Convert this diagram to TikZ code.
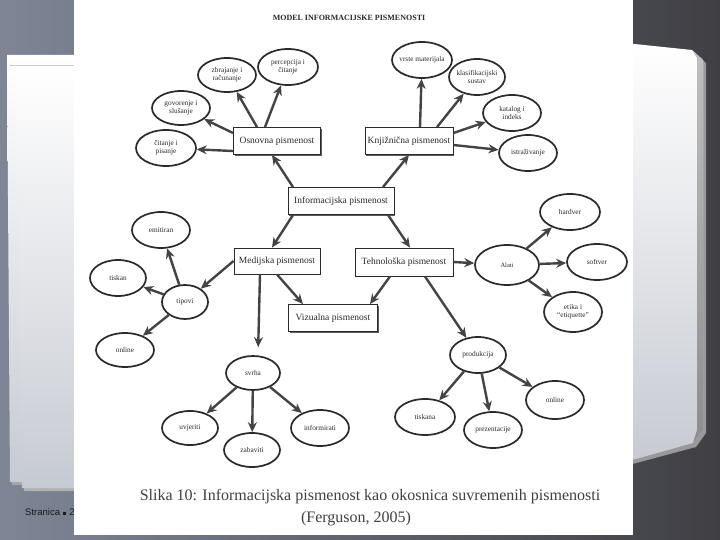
\documentclass[tikz,border=0pt]{standalone}
\usepackage{fontspec}
\setmainfont{Liberation Serif}
\newfontfamily\slidesans{Liberation Sans}
\newfontfamily\symfont{DejaVu Sans}
\usetikzlibrary{shapes.geometric,arrows.meta,shadows}
\definecolor{bgL}{HTML}{7E8696}
\definecolor{bgR}{HTML}{3F3F44}
\definecolor{ink}{HTML}{2A2A2A}
\definecolor{arrc}{HTML}{444444}
\definecolor{sheetb}{HTML}{C6CAD2}
\begin{document}
\begin{tikzpicture}[x=1pt,y=-1pt,
  ell/.style={ellipse, draw=ink, line width=1.7pt, fill=white, inner sep=0pt},
  etx/.style={font=\fontsize{7.3}{8.3}\selectfont, align=center, text=ink, inner sep=0pt},
  box/.style={rectangle, draw=ink, line width=0.9pt, fill=white, inner sep=0pt,
    font=\fontsize{9.5}{10}\selectfont, text=ink,
    drop shadow={shadow xshift=1.2pt, shadow yshift=-1.4pt, opacity=0.85, fill=black!75}},
  arr/.style={draw=arrc, line width=2.4pt, -{Stealth[length=10pt,width=9pt]}},
]
\useasboundingbox (0,0) rectangle (720,540);
% slide background
\shade[left color=bgL, right color=bgR] (0,0) rectangle (720,540);
% left paper sheets
\fill[black!35] (9,57) -- (80,57) -- (80,485) -- (12,485) -- cycle;
\shade[top color=white, bottom color=sheetb] (7,55) -- (80,55) -- (80,482) -- (10,482) -- cycle;
\fill[black!30] (17,70) -- (80,70) -- (80,491) -- (24,491) -- cycle;
\shade[top color=white, bottom color=sheetb] (15,68) -- (80,68) -- (80,488) -- (22,488) -- cycle;
\draw[black!20, line width=1pt] (10,66) -- (80,66);
% right paper sheet
\fill[black!40] (625,46) -- (694,53) -- (706,63) -- (706,433) -- (696,447) -- (625,466) -- cycle;
\shade[top color=white, bottom color=sheetb] (625,43) -- (692,50) -- (703,60) -- (703,430) -- (693,443) -- (625,462) -- cycle;
\shade[top color=black!25, bottom color=black!45] (692,50) -- (703,60) -- (703,430) -- (693,443) -- (697,430) -- (697,58) -- cycle;
% footer text
\node[anchor=west, font=\slidesans\fontsize{9.5}{10}\selectfont, text=black!90, inner sep=0pt] (str) at (25,512) {Stranica {\symfont\fontsize{6}{7}\selectfont ▪} 2};
% the scanned figure
\fill[white] (74,0) rectangle (633,535);

\node[font=\bfseries\fontsize{8}{9}\selectfont, text=ink] (title) at (349,18) {MODEL INFORMACIJSKE PISMENOSTI};

% boxes
\node[box, minimum width=87pt, minimum height=27pt] (osn) at (277,141) {Osnovna pismenost};
\node[box, minimum width=106pt, minimum height=27pt] (inf) at (341,201) {Informacijska pismenost};
\node[box, minimum width=88pt, minimum height=27pt] (knj) at (409,141) {Knjižnična pismenost};
\node[box, minimum width=86pt, minimum height=26pt] (med) at (277,261) {Medijska pismenost};
\node[box, minimum width=98pt, minimum height=28pt] (teh) at (404,262) {Tehnološka pismenost};
\node[box, minimum width=89pt, minimum height=27pt] (viz) at (333,318) {Vizualna pismenost};

% ellipses
\node[ell, minimum width=60pt, minimum height=36pt] (per) at (288,67) {};
\node[ell, minimum width=58pt, minimum height=34pt] (zbr) at (227,75) {};
\node[ell, minimum width=58pt, minimum height=34pt] (gov) at (181,108) {};
\node[ell, minimum width=60pt, minimum height=36pt] (cit) at (166,148) {};
\node[ell, minimum width=60pt, minimum height=36pt] (vrs) at (422,60) {};
\node[ell, minimum width=56pt, minimum height=36pt] (kla) at (477,77) {};
\node[ell, minimum width=58pt, minimum height=36pt] (kat) at (512,113) {};
\node[ell, minimum width=58pt, minimum height=36pt] (ist) at (528,153) {};
\node[ell, minimum width=58pt, minimum height=36pt] (emi) at (161,230) {};
\node[ell, minimum width=56pt, minimum height=36pt] (tis) at (118,278) {};
\node[ell, minimum width=46pt, minimum height=34pt] (tip) at (185,302) {};
\node[ell, minimum width=58pt, minimum height=34pt] (onl) at (125,350) {};
\node[ell, minimum width=54pt, minimum height=34pt] (svr) at (253,373) {};
\node[ell, minimum width=56pt, minimum height=34pt] (uvj) at (190,428) {};
\node[ell, minimum width=56pt, minimum height=34pt] (zab) at (252,450) {};
\node[ell, minimum width=58pt, minimum height=36pt] (ifm) at (320,428) {};
\node[ell, minimum width=64pt, minimum height=40pt] (ala) at (507,265) {};
\node[ell, minimum width=60pt, minimum height=36pt] (har) at (570,212) {};
\node[ell, minimum width=60pt, minimum height=36pt] (sof) at (597,262) {};
\node[ell, minimum width=58pt, minimum height=40pt] (eti) at (573,312) {};
\node[ell, minimum width=56pt, minimum height=36pt] (pro) at (478,355) {};
\node[ell, minimum width=60pt, minimum height=36pt] (tsk) at (425,417) {};
\node[ell, minimum width=58pt, minimum height=36pt] (pre) at (493,430) {};
\node[ell, minimum width=58pt, minimum height=38pt] (on2) at (555,400) {};

% ellipse texts
\node[etx] (pert) at (per) {percepcija i\\čitanje};
\node[etx] (zbrt) at (zbr) {zbrajanje i\\računanje};
\node[etx] (govt) at (gov) {govorenje i\\slušanje};
\node[etx] (citt) at (cit) {čitanje i\\pisanje};
\node[etx] (vrst) at (vrs) {vrste materijala};
\node[etx] (klat) at (kla) {klasifikacijski\\sustav};
\node[etx] (katt) at (kat) {katalog i\\indeks};
\node[etx] (istt) at (ist) {istraživanje};
\node[etx] (emit) at (emi) {emitiran};
\node[etx] (tist) at (tis) {tiskan};
\node[etx] (tipt) at (tip) {tipovi};
\node[etx] (onlt) at (onl) {online};
\node[etx] (svrt) at (svr) {svrha};
\node[etx] (uvjt) at (uvj) {uvjeriti};
\node[etx] (zabt) at (zab) {zabaviti};
\node[etx] (ifmt) at (ifm) {informirati};
\node[etx, font=\fontsize{6.5}{7}\selectfont] (alat) at (ala) {Alati};
\node[etx] (hart) at (har) {hardver};
\node[etx] (soft) at (sof) {softver};
\node[etx] (etit) at (eti) {etika i\\“etiquette”};
\node[etx] (prot) at (pro) {produkcija};
\node[etx] (tskt) at (tsk) {tiskana};
\node[etx] (pret) at (pre) {prezentacije};
\node[etx] (on2t) at (on2) {online};

% connectors
\draw[arr] ([xshift=-20pt]osn.north) -- (zbr);
\draw[arr] ([xshift=-12pt]osn.north) -- (per);
\draw[arr] ([yshift=8pt]osn.west) -- (gov);
\draw[arr] ([yshift=-10pt]osn.west) -- (cit);
\draw[arr] ([xshift=-48pt]inf.north) -- ([xshift=-5pt]osn.south);
\draw[arr] ([xshift=42pt]inf.north) -- (knj.south);
\draw[arr] ([xshift=11pt]knj.north) -- (vrs);
\draw[arr] ([xshift=28pt]knj.north) -- (kla);
\draw[arr] ([yshift=8pt]knj.east) -- (kat);
\draw[arr] ([yshift=-4pt]knj.east) -- (ist);
\draw[arr] ([xshift=-48pt]inf.south) -- ([xshift=-5pt]med.north);
\draw[arr] ([xshift=47pt]inf.south) -- ([xshift=6pt]teh.north);
\draw[arr] (med.west) -- (tip);
\draw[arr] (tip) -- (emi);
\draw[arr] (tip) -- (tis);
\draw[arr] (tip) -- (onl);
\draw[arr, shorten >=8pt] ([xshift=-17pt]med.south) -- ([xshift=5pt]svr.north);
\draw[arr] (med.south) -- ([xshift=-30pt]viz.north);
\draw[arr] ([xshift=-14pt]teh.south) -- ([xshift=37pt]viz.north);
\draw[arr] (svr) -- (uvj);
\draw[arr] (svr) -- (zab);
\draw[arr] (svr) -- (ifm);
\draw[arr] (teh.east) -- (ala);
\draw[arr] ([xshift=21pt]teh.south) -- (pro);
\draw[arr] (ala) -- (har);
\draw[arr] (ala) -- (sof);
\draw[arr] (ala) -- (eti);
\draw[arr] (pro) -- (tsk);
\draw[arr] (pro) -- (pre);
\draw[arr] (pro) -- (on2);

% caption
\node[font=\fontsize{16}{19}\selectfont, text=black!75] (cap1) at (370,497) {Slika 10: Informacijska pismenost kao okosnica suvremenih pismenosti};
\node[font=\fontsize{16}{19}\selectfont, text=black!75] (cap2) at (356,519) {(Ferguson, 2005)};
\end{tikzpicture}
\end{document}
